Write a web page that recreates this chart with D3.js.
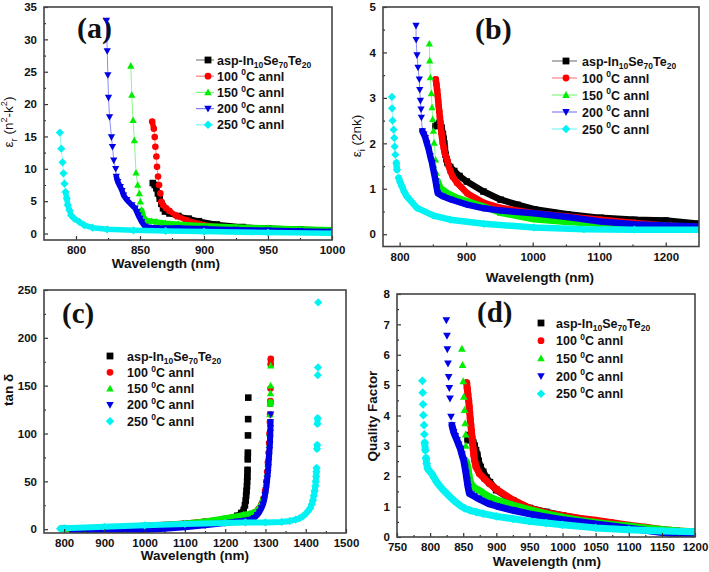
<!DOCTYPE html>
<html><head><meta charset="utf-8">
<script src="https://cdn.jsdelivr.net/npm/d3@7"></script>
<style>
body{margin:0;background:#fff}
svg{display:block}
text{font-family:"Liberation Sans",Arial,sans-serif}
</style></head>
<body><svg id="c" width="709" height="572"></svg>
<script>
// ---------- series meta ----------
const seriesNames = ["asp-In_{10}Se_{70}Te_{20}", "100 ^{0}C annl", "150 ^{0}C annl", "200 ^{0}C annl", "250 ^{0}C annl"];
const seriesColors = ["#000000", "#ff0000", "#00ee00", "#0000e6", "#00f2f2"];
const seriesSymbols = ["square", "circle", "up", "down", "diamond"];

// ---------- (a) epsilon_r vs wavelength ----------
const aXTicks = [800, 850, 900, 950, 1000];
const aXMinor = [825, 875, 925, 975];
const aYTicks = [0, 5, 10, 15, 20, 25, 30, 35];
const aYMinor = [2.5, 7.5, 12.5, 17.5, 22.5, 27.5, 32.5];
const epsR_asp = [[860,7.8],[861.5,7.5],[862.8,7.0],[864,6.2],[865.4,5.4],[866.7,4.6],[868,3.9],[869.5,3.4],[873,3.1],[880,2.7],[888,2.3],[896,1.9],[910,1.4],[930,1.0],[950,0.8],[975,0.65],[1000,0.5]];
const epsR_100 = [[859.5,17.3],[860.8,16.2],[861.5,14.9],[862,13.4],[862.8,11.9],[863.3,10.3],[864.1,8.8],[864.9,7.5],[865.9,6.2],[866.7,4.9],[868,4.4],[870.5,3.9],[873,3.5],[878,2.8],[886,2.1],[896,1.5],[910,1.0],[930,0.8],[950,0.65],[975,0.5],[1000,0.4]];
const epsR_150 = [[842.8,25.9],[843.6,21.4],[844.6,17.5],[845.6,14.4],[846.9,9.4],[848.2,7.5],[849.5,6.2],[850.3,4.9],[851.3,3.6],[852.6,2.6],[855,2.0],[859,1.9],[863,1.8],[870,1.6],[880,1.45],[900,1.2],[925,1.0],[950,0.85],[975,0.7],[1000,0.6]];
const epsR_200 = [[823.8,32.9],[824.4,28.2],[824.9,24.5],[825.4,21],[826.2,18],[827.7,14.9],[828.5,13.4],[829.5,11.3],[831,10],[831.5,8.8],[832.6,8.0],[834.6,7.2],[836,6.6],[837.2,5.9],[839.7,5.2],[843.6,4.4],[846.2,3.9],[847.5,3.35],[848.7,2.8],[850,2.3],[851.3,1.8],[853.8,1.1],[856.4,0.95],[862.8,0.9],[880,0.85],[900,0.75],[925,0.6],[950,0.5],[975,0.4],[1000,0.3]];
const epsR_250 = [[787.4,15.6],[788.5,13.1],[789.5,11],[790.2,9.3],[791,7.7],[791.8,6.4],[792.8,5.4],[793.6,4.4],[794.9,3.6],[796.2,2.8],[798.7,2.3],[802.6,1.8],[806.4,1.3],[812.8,0.9],[824.4,0.65],[845,0.5],[870,0.4],[900,0.3],[950,0.15],[1000,0.05]];

// ---------- (b) epsilon_i vs wavelength ----------
const bXTicks = [800, 900, 1000, 1100, 1200];
const bXMinor = [850, 950, 1050, 1150];
const bYTicks = [0, 1, 2, 3, 4, 5];
const bYMinor = [0.5, 1.5, 2.5, 3.5, 4.5];
const epsI_asp = [[854,2.38],[857,2.42],[860,2.45],[863,2.35],[865,2.2],[866,2.1],[867,2.0],[868,1.87],[869,1.75],[870.5,1.65],[872,1.57],[876,1.48],[882,1.39],[890,1.28],[901,1.16],[926,0.94],[952,0.76],[977,0.65],[1002,0.55],[1052,0.44],[1102,0.36],[1153,0.32],[1200,0.3],[1250,0.23]];
const epsI_100 = [[854.3,3.41],[855.3,3.3],[856.3,3.18],[857.3,3.05],[858,2.93],[858.8,2.82],[859.6,2.7],[860.5,2.58],[861.3,2.47],[862,2.35],[862.8,2.23],[863.8,2.12],[864.8,2.01],[866.3,1.9],[867.8,1.79],[869.5,1.72],[871.4,1.64],[873.8,1.5],[876.4,1.38],[880,1.26],[886.4,1.13],[901.5,0.9],[926.6,0.69],[951.8,0.58],[1002,0.46],[1052,0.39],[1102,0.32],[1153,0.25],[1200,0.19],[1250,0.16]];
const epsI_150 = [[844.7,4.19],[845.2,3.82],[846.2,3.45],[847.7,3.1],[848.7,2.79],[849.7,2.53],[850.8,2.27],[851.8,2.01],[854,1.64],[855.3,1.35],[857.3,1.17],[859,1.1],[861.3,1.02],[871.4,0.91],[886.4,0.8],[926.6,0.61],[951.8,0.47],[1002,0.33],[1052,0.27],[1102,0.23],[1153,0.2],[1200,0.18],[1250,0.16]];
const epsI_200 = [[824.6,4.59],[824.8,4.28],[826.1,3.94],[827.6,3.67],[829.6,3.41],[830.2,3.18],[831.2,2.94],[832.2,2.75],[832.7,2.57],[834.2,2.27],[836.5,2.2],[838.7,2.12],[841,2.0],[843.7,1.87],[846,1.72],[848.7,1.57],[850.5,1.43],[852.3,1.3],[854,1.17],[855.6,1.03],[857.3,0.9],[863.8,0.84],[876,0.77],[901.5,0.65],[926.6,0.57],[951.8,0.52],[1002,0.46],[1052,0.38],[1102,0.28],[1153,0.22],[1200,0.19],[1250,0.17]];
const epsI_250 = [[788.4,3.02],[788.6,2.77],[789.4,2.5],[790.9,2.3],[791.9,2.12],[792.5,1.93],[793.5,1.75],[795,1.57],[796,1.42],[798.5,1.24],[801,1.14],[803.5,1.05],[807,0.93],[811,0.83],[826,0.58],[851,0.41],[876,0.32],[926.6,0.23],[1002,0.15],[1077,0.11],[1153,0.1],[1250,0.1]];

// ---------- (c) tan delta vs wavelength ----------
const cXTicks = [800, 900, 1000, 1100, 1200, 1300, 1400, 1500];
const cXMinor = [850, 950, 1050, 1150, 1250, 1350, 1450];
const cYTicks = [0, 50, 100, 150, 200, 250];
const cYMinor = [25, 75, 125, 175, 225];
const tan_asp = [[800,0.3],[900,1.2],[1000,2.8],[1100,5.5],[1150,7.5],[1200,10.5],[1230,14],[1240,17],[1246,20],[1249,25],[1251,30],[1252,35],[1253,40],[1254,45],[1254.5,50],[1255,55],[1255.5,62],[1256,73],[1256.3,80],[1256.6,98],[1257,115],[1257.3,137.5]];
const tan_100 = [[800,0.3],[900,1.5],[1000,3.5],[1100,6],[1150,8],[1200,10],[1240,13],[1260,15],[1275,18],[1283,21],[1290,26],[1295,32],[1299,40],[1302,50],[1304,60],[1306,70],[1308,80],[1309,90],[1310,100],[1311,112],[1311.5,120],[1312,131],[1312.2,134],[1312.5,147],[1313,172],[1313.3,178]];
const tan_150 = [[800,0.3],[900,1.5],[1000,3.2],[1100,6],[1150,8],[1200,11.5],[1230,13.5],[1245,15],[1260,16],[1275,18],[1283,21],[1290,26],[1295,32],[1299,40],[1302,48],[1304,58],[1306,68],[1308,78],[1309,88],[1310,100],[1311,120],[1311.8,131],[1312.2,133],[1312.5,142],[1312.8,150],[1313,171]];
const tan_200 = [[820,-3],[850,-3],[900,-2.5],[950,-2],[1000,-1],[1050,0.5],[1100,2],[1150,4],[1200,6.5],[1230,8],[1250,9],[1262,10],[1272,12],[1280,15],[1285,18],[1290,22],[1294,26],[1297,31],[1299,36],[1301,41],[1303,47],[1304.5,53],[1306,59],[1307,65],[1308,71],[1309,77],[1310,83],[1311,89],[1311.5,95],[1312,101],[1312.3,106],[1312.6,112],[1313,120]];
const tan_250 = [[790,0.5],[800,1],[900,2.5],[1000,4],[1100,5.5],[1200,6.5],[1250,7],[1300,7],[1340,7.5],[1360,8.5],[1375,10],[1385,11.5],[1393,13.5],[1400,16],[1406,19],[1411,22],[1415,26],[1418,30],[1420,35],[1422,40],[1424,45],[1425,50],[1426,55],[1426.5,60],[1427,64],[1428,84],[1428.5,88],[1429,110],[1429.5,116],[1430,161],[1430.5,169],[1431,237]];

// ---------- (d) quality factor vs wavelength ----------
const dXTicks = [750, 800, 850, 900, 950, 1000, 1050, 1100, 1150, 1200];
const dXMinor = [775, 825, 875, 925, 975, 1025, 1075, 1125, 1175];
const dYTicks = [0, 1, 2, 3, 4, 5, 6, 7, 8];
const dYMinor = [0.5, 1.5, 2.5, 3.5, 4.5, 5.5, 6.5, 7.5];
const qf_asp = [[857,3.2],[859,3.35],[861,3.3],[863,3.2],[865,3.1],[867,3.0],[869,2.85],[871,2.7],[873,2.5],[876,2.3],[880,2.14],[885,1.95],[890,1.8],[900,1.55],[925,1.2],[950,0.95],[975,0.82],[1000,0.7],[1050,0.5],[1100,0.35],[1150,0.22],[1200,0.15]];
const qf_100 = [[855.2,5.08],[856,4.9],[857,4.7],[858.2,4.5],[859,4.3],[859.8,4.1],[860.6,3.9],[861.4,3.7],[862.4,3.5],[863.2,3.3],[864.2,3.1],[865,2.9],[866,2.7],[867.2,2.53],[869.3,2.31],[874.3,2.09],[881.9,1.92],[889.4,1.76],[900,1.57],[925,1.22],[950,0.95],[975,0.8],[1000,0.71],[1025,0.62],[1050,0.55],[1075,0.47],[1100,0.39],[1125,0.32],[1150,0.25],[1175,0.2],[1200,0.16]];
const qf_150 = [[848,6.2],[849,5.66],[850,5.13],[851,4.62],[852,4.18],[853,3.74],[853.8,3.37],[854,3.0],[854.5,2.49],[857,2.31],[858,2.15],[859,2.0],[860,1.88],[861,1.81],[863,1.72],[866,1.65],[870,1.58],[874,1.54],[880,1.45],[890,1.32],[900,1.22],[925,1.05],[950,0.9],[975,0.77],[1000,0.65],[1025,0.55],[1050,0.48],[1075,0.41],[1100,0.36],[1125,0.3],[1150,0.25],[1175,0.2],[1200,0.17]];
const qf_200 = [[824.5,7.14],[825.5,6.63],[826,6.18],[827,5.71],[828,5.27],[829,4.91],[830,4.56],[831.6,3.96],[833,3.68],[835.6,3.45],[838,3.32],[840.6,3.19],[843,3.05],[845.7,2.91],[848,2.72],[850.7,2.53],[852.5,2.31],[854.2,2.09],[855.7,1.87],[857.2,1.65],[859.3,1.43],[862,1.4],[866,1.35],[873,1.26],[888,1.1],[900,1.02],[925,0.88],[950,0.76],[975,0.66],[1000,0.57],[1025,0.5],[1050,0.43],[1075,0.36],[1100,0.29],[1125,0.22],[1150,0.15],[1175,0.09],[1200,0.04]];
const qf_250 = [[788.3,5.14],[788.8,4.75],[789.3,4.37],[789.8,4.01],[790.8,3.68],[791.3,3.38],[791.8,3.1],[792.8,2.86],[793.8,2.6],[794.8,2.42],[796.3,2.25],[799,2.17],[802.4,2.09],[806,1.95],[809.9,1.81],[815,1.67],[820,1.54],[825,1.43],[830,1.32],[837,1.18],[845.2,1.04],[852,0.95],[860.2,0.88],[870,0.82],[880,0.77],[900,0.68],[925,0.6],[950,0.52],[975,0.46],[1000,0.4],[1050,0.3],[1100,0.24],[1150,0.2],[1200,0.17]];

// ---------- panel layout (positions / styles) ----------
const panels = [
  {id:"a", series:[epsR_asp,epsR_100,epsR_150,epsR_200,epsR_250], left:44, right:332, top:7, bottom:240,
   xDomain:[775,1000], yDomain:[-1,35], xTicks:aXTicks, xMinor:aXMinor, yTicks:aYTicks, yMinor:aYMinor,
   thinLine:true, band:5.5, mark:3.3, tag:"(a)", tagX:77, tagY:38, tagSize:30,
   xTitleX:166, xTitleY:268, yTitle:"ε_{r} (n^{2}-k^{2})", yTitleBold:false, yTitleX:13, yTitleY:122,
   leg:{line:[196,214], sym:208, text:217, y0:60, dy:16.2}},
  {id:"b", series:[epsI_asp,epsI_100,epsI_150,epsI_200,epsI_250], left:383, right:699, top:7, bottom:246.5,
   xDomain:[775,1250], yDomain:[-0.27,5], xTicks:bXTicks, xMinor:bXMinor, yTicks:bYTicks, yMinor:bYMinor,
   thinLine:true, band:6.5, mark:3.3, tag:"(b)", tagX:475, tagY:39, tagSize:30,
   xTitleX:540, xTitleY:282, yTitle:"ε_{i} (2nk)", yTitleBold:false, yTitleX:361, yTitleY:136,
   leg:{line:[552,577], sym:566, text:582, y0:61, dy:17}},
  {id:"c", series:[tan_asp,tan_100,tan_150,tan_200,tan_250], left:44, right:346, top:290, bottom:533,
   xDomain:[750,1500], yDomain:[-4,250], xTicks:cXTicks, xMinor:cXMinor, yTicks:cYTicks, yMinor:cYMinor,
   thinLine:false, band:6, mark:3.3, tag:"(c)", tagX:62, tagY:323, tagSize:29,
   xTitleX:195, xTitleY:560, yTitle:"tan δ", yTitleBold:true, yTitleX:13, yTitleY:390,
   leg:{line:null, sym:110, text:127, y0:356, dy:16.3}},
  {id:"d", series:[qf_asp,qf_100,qf_150,qf_200,qf_250], left:397, right:695, top:294, bottom:537,
   xDomain:[750,1200], yDomain:[0,8], xTicks:dXTicks, xMinor:dXMinor, yTicks:dYTicks, yMinor:dYMinor,
   thinLine:false, band:7, mark:3.5, tag:"(d)", tagX:477, tagY:322, tagSize:29,
   xTitleX:547, xTitleY:566, yTitle:"Quality Factor", yTitleBold:true, yTitleX:377, yTitleY:416,
   leg:{line:null, sym:541, text:556, y0:323, dy:17.7}}
];

const svg = d3.select("#c");
const defs = svg.append("defs");

function symPath(type, h) {
  switch (type) {
    case "square": return `M${-h},${-h}H${h}V${h}H${-h}Z`;
    case "circle": return `M${-h},0A${h},${h} 0 1,0 ${h},0A${h},${h} 0 1,0 ${-h},0Z`;
    case "up": return `M0,${-h*1.15}L${h*1.1},${h*0.85}L${-h*1.1},${h*0.85}Z`;
    case "down": return `M0,${h*1.15}L${h*1.1},${-h*0.85}L${-h*1.1},${-h*0.85}Z`;
    default: return `M0,${-h*1.25}L${h*1.25},0L0,${h*1.25}L${-h*1.25},0Z`;
  }
}

function richText(sel, str, fs) {
  const parts = str.split(/(_\{[^}]*\}|\^\{[^}]*\})/).filter(s => s.length);
  let shift = 0;
  parts.forEach(pt => {
    let t = pt, target = 0, size = fs;
    if (pt.startsWith("_{")) { t = pt.slice(2, -1); target = fs * 0.28; size = fs * 0.68; }
    else if (pt.startsWith("^{")) { t = pt.slice(2, -1); target = -fs * 0.42; size = fs * 0.68; }
    sel.append("tspan").attr("dy", target - shift).attr("font-size", size).text(t);
    shift = target;
  });
}

panels.forEach(p => {
  const x = d3.scaleLinear().domain(p.xDomain).range([p.left, p.right]);
  const y = d3.scaleLinear().domain(p.yDomain).range([p.bottom, p.top]);
  const g = svg.append("g");

  // panel tag drawn first so data marks sit above it
  g.append("text").attr("x", p.tagX).attr("y", p.tagY)
    .style("font-family", "'Liberation Serif', 'Times New Roman', serif").attr("font-weight", "bold")
    .attr("font-size", p.tagSize).attr("fill", "#111").text(p.tag);

  const clipId = "clip-" + p.id;
  defs.append("clipPath").attr("id", clipId).append("rect")
    .attr("x", p.left).attr("y", p.top).attr("width", p.right - p.left).attr("height", p.bottom - p.top);
  const plot = g.append("g").attr("clip-path", `url(#${clipId})`);

  p.series.forEach((data, i) => {
    const col = seriesColors[i];
    const pts = data.map(d => [x(d[0]), y(d[1])]);
    const runs = []; let cur = [pts[0]];
    for (let k = 1; k < pts.length; k++) {
      const dx = pts[k][0] - pts[k-1][0], dy = pts[k][1] - pts[k-1][1];
      const sparse = Math.abs(dy) > 1.5 * Math.abs(dx) && Math.hypot(dx, dy) > 7.5;
      if (sparse) { if (cur.length > 1) runs.push(cur); cur = [pts[k]]; }
      else cur.push(pts[k]);
    }
    if (cur.length > 1) runs.push(cur);
    if (p.thinLine) {
      plot.append("path").attr("d", d3.line()(pts)).attr("fill", "none")
        .attr("stroke", col).attr("stroke-opacity", 0.45).attr("stroke-width", 1);
    }
    runs.forEach(r => plot.append("path").attr("d", d3.line()(r)).attr("fill", "none")
      .attr("stroke", col).attr("stroke-width", p.band)
      .attr("stroke-linejoin", "round").attr("stroke-linecap", "round"));
    plot.append("g").selectAll("path").data(data).enter().append("path")
      .attr("transform", d => `translate(${x(d[0])},${y(d[1])})`)
      .attr("d", symPath(seriesSymbols[i], p.mark)).attr("fill", col);
  });

  const styleAxis = s => {
    s.select(".domain").remove();
    s.selectAll(".tick line").attr("stroke", "#333").attr("stroke-width", 1.2);
    s.selectAll(".tick text").attr("font-size", 11.5).attr("font-weight", "bold").attr("fill", "#111");
  };
  g.append("g").attr("transform", `translate(0,${p.bottom})`)
    .call(d3.axisBottom(x).tickValues(p.xTicks).tickSize(-4).tickPadding(6).tickFormat(d3.format("d"))).call(styleAxis);
  g.append("g").attr("transform", `translate(0,${p.bottom})`)
    .call(d3.axisBottom(x).tickValues(p.xMinor).tickSize(-2).tickFormat("")).call(styleAxis);
  g.append("g").attr("transform", `translate(${p.left},0)`)
    .call(d3.axisLeft(y).tickValues(p.yTicks).tickSize(-4).tickPadding(7).tickFormat(d3.format("d"))).call(styleAxis);
  g.append("g").attr("transform", `translate(${p.left},0)`)
    .call(d3.axisLeft(y).tickValues(p.yMinor).tickSize(-2).tickFormat("")).call(styleAxis);

  g.append("rect").attr("x", p.left).attr("y", p.top)
    .attr("width", p.right - p.left).attr("height", p.bottom - p.top)
    .attr("fill", "none").attr("stroke", "#444").attr("stroke-width", 1.6);

  g.append("text").attr("x", p.xTitleX).attr("y", p.xTitleY).attr("text-anchor", "middle")
    .attr("font-size", 13.5).attr("font-weight", "bold").attr("fill", "#111").text("Wavelength (nm)");
  const yt = g.append("text").attr("transform", `translate(${p.yTitleX},${p.yTitleY}) rotate(-90)`)
    .attr("text-anchor", "middle").attr("dy", "0.35em").attr("fill", "#111")
    .attr("font-weight", p.yTitleBold ? "bold" : "normal");
  richText(yt, p.yTitle, 13.5);

  seriesNames.forEach((name, i) => {
    const ly = p.leg.y0 + i * p.leg.dy;
    if (p.leg.line) {
      g.append("line").attr("x1", p.leg.line[0]).attr("x2", p.leg.line[1]).attr("y1", ly).attr("y2", ly)
        .attr("stroke", seriesColors[i]).attr("stroke-opacity", 0.5).attr("stroke-width", 1.2);
    }
    g.append("path").attr("transform", `translate(${p.leg.sym},${ly})`)
      .attr("d", symPath(seriesSymbols[i], 3.4)).attr("fill", seriesColors[i]);
    const t = g.append("text").attr("x", p.leg.text).attr("y", ly + 4.5)
      .attr("font-weight", "bold").attr("fill", "#111");
    richText(t, name, 12.5);
  });
});
</script>
</body></html>
